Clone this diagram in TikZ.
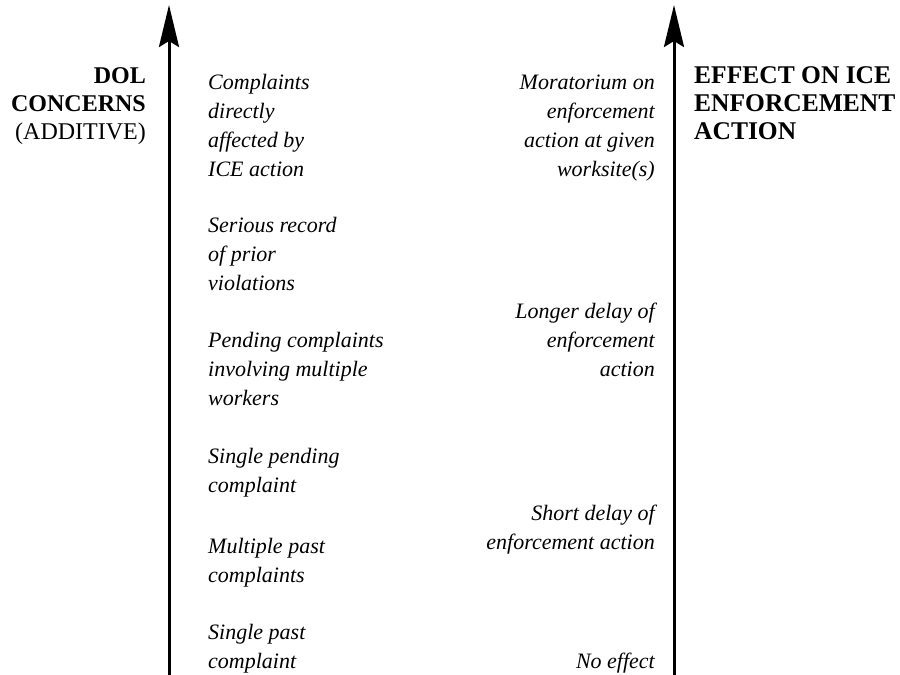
\documentclass[tikz,border=0pt]{standalone}
\usepackage{fontspec}
\setmainfont{Liberation Serif}
\usetikzlibrary{arrows.meta}
\begin{document}
\begin{tikzpicture}[x=1pt,y=-1pt,
  axis/.style={line width=3pt,-{Stealth[length=42pt,width=20pt,inset=6pt]}},
  item/.style={inner sep=0pt,font=\fontsize{22}{28.7}\selectfont\itshape},
  lefttxt/.style={item,anchor=base west,align=left},
  righttxt/.style={item,anchor=base east,align=right},
  head/.style={inner sep=0pt,font=\fontsize{24}{28}\selectfont}]
\useasboundingbox (0,0) rectangle (900,675);
\coordinate (lb) at (169,675);
\coordinate (lt) at (169,5);
\coordinate (rb) at (674,675);
\coordinate (rt) at (674,5);
\draw[axis] (lb) -- (lt);
\draw[axis] (rb) -- (rt);
\node[head,anchor=base east,align=right] (dol) at (146,139) {\textbf{DOL}\\\textbf{CONCERNS}\\(ADDITIVE)};
\node[head,anchor=base west,align=left,font=\fontsize{25.5}{28}\selectfont\bfseries] (eff) at (694,139) {EFFECT ON ICE\\ENFORCEMENT\\ACTION};
\node[lefttxt] (l1) at (208,176) {Complaints\\directly\\affected by\\ICE action};
\node[lefttxt] (l2) at (208,290) {Serious record\\of prior\\violations};
\node[lefttxt] (l3) at (208,405) {Pending complaints\\involving multiple\\workers};
\node[lefttxt] (l4) at (208,492) {Single pending\\complaint};
\node[lefttxt] (l5) at (208,582) {Multiple past\\complaints};
\node[lefttxt] (l6) at (208,668) {Single past\\complaint};
\node[righttxt] (r1) at (655,176) {Moratorium on\\enforcement\\action at given\\worksite(s)};
\node[righttxt] (r2) at (655,376) {Longer delay of\\enforcement\\action};
\node[righttxt] (r3) at (655,549) {Short delay of\\enforcement action};
\node[righttxt] (r4) at (655,668) {No effect};
\end{tikzpicture}
\end{document}
